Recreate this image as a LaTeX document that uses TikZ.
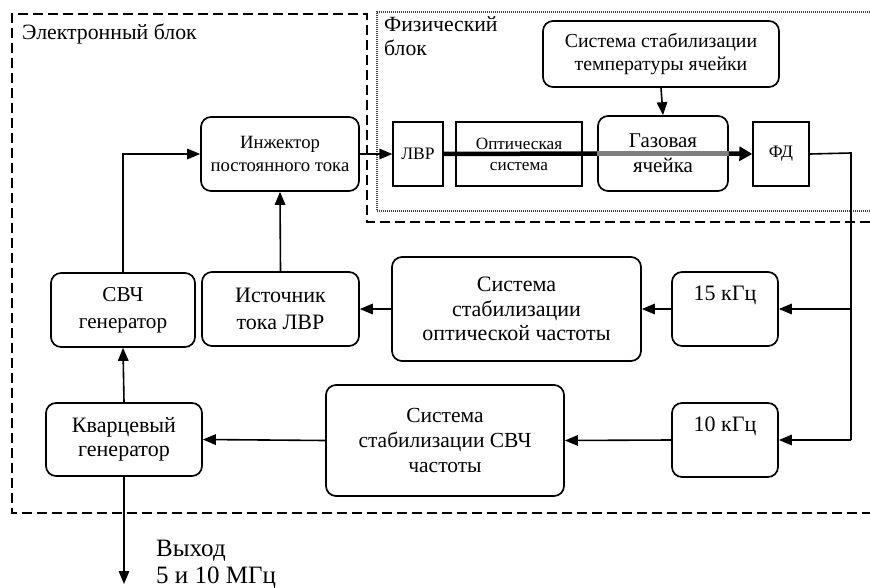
\documentclass[tikz,border=0pt]{standalone}
\usepackage{fontspec}
\setmainfont{Liberation Serif}
\usetikzlibrary{arrows.meta}
\newcommand{\fs}[2]{\fontsize{#1pt}{#2pt}\selectfont}
\begin{document}
\begin{tikzpicture}[x=1pt,y=-1pt,
  rbox/.style={draw, line width=1.7pt, rounded corners=10pt, align=center, fill=white, inner sep=0pt},
  sbox/.style={draw, line width=1.3pt, align=center, fill=white, inner sep=0pt},
  conn/.style={line width=1.6pt, -{Triangle[length=13pt,width=10.5pt]}},
  plain/.style={line width=1.6pt},
  dashframe/.style={line width=1.6pt, dash pattern=on 10pt off 5pt},
  dotframe/.style={line width=1.2pt, dash pattern=on 1pt off 1pt, black!75}
]
\useasboundingbox (0,0) rectangle (870,588);

% frames
\draw[dashframe] (870,222) -- (367,222) -- (367,14) -- (12,14) -- (12,513) -- (870,513);
\draw[dotframe] (870,12) -- (377,12) -- (377,211) -- (870,211);
\node[anchor=base west, font=\fs{21.8}{25}, inner sep=0pt] (elab) at (22,40) {Электронный блок};
\node[anchor=base west, align=left, font=\fs{21.7}{24}, inner sep=0pt] (flab) at (384,56) {Физический\\блок};

% physical block
\node[rbox, minimum width=236pt, minimum height=66pt, font=\fs{19.8}{23}] (temp) at (661,54) {Система стабилизации\\температуры ячейки};
\node[sbox, minimum width=50pt, minimum height=64pt, font=\fs{17.5}{21}] (lvr) at (418,154) {ЛВР};
\node[sbox, minimum width=126pt, minimum height=64pt, font=\fs{17.2}{21}] (opt) at (519,154) {Оптическая\\система};
\node[rbox, minimum width=130pt, minimum height=75pt, font=\fs{21}{25}] (gas) at (663,153.5) {Газовая\\ячейка};
\node[sbox, minimum width=56pt, minimum height=64pt, font=\fs{17.5}{21}] (fd) at (781,154) {ФД};

% electronic block
\node[rbox, minimum width=158pt, minimum height=74pt, font=\fs{18.7}{23}] (inj) at (280,154) {Инжектор\\постоянного тока};
\node[rbox, minimum width=144pt, minimum height=74pt, font=\fs{21.2}{27}] (svch) at (123,310) {СВЧ\\генератор};
\node[rbox, minimum width=157pt, minimum height=74pt, font=\fs{22}{27}] (ist) at (280.5,309) {Источник\\тока ЛВР};
\node[rbox, minimum width=249pt, minimum height=104pt, font=\fs{22}{24.5}] (optsys) at (516.5,309) {Система\\стабилизации\\оптической частоты};
\node[rbox, minimum width=106pt, minimum height=74pt, font=\fs{22}{25}] (k15) at (725,309) {15 кГц\\\strut};
\node[rbox, minimum width=106pt, minimum height=74pt, font=\fs{22}{25}] (k10) at (725,440) {10 кГц\\\strut};
\node[rbox, minimum width=238pt, minimum height=111pt, font=\fs{21.5}{25}] (svchsys) at (445,440.5) {Система\\стабилизации СВЧ\\частоты};
\node[rbox, minimum width=156pt, minimum height=73pt, font=\fs{22}{24.5}] (kvarc) at (124,439.5) {Кварцевый\\генератор};

\coordinate (out) at (124,584);
\node[anchor=base west, align=left, font=\fs{25}{27}, inner sep=0pt] (outlab) at (156,583) {Выход\\5 и 10 МГц};

% beam
\draw[line width=4.5pt] (lvr.east) -- (gas.west);
\draw[line width=4.5pt, black!50] (gas.west) -- (gas.east);
\draw[line width=4.5pt, -{Triangle[length=13pt,width=14pt]}] (gas.east) -- (fd.west);

% connectors
\draw[conn] (temp.south) -- (gas.north);
\draw[conn] (inj.east) -- (lvr.west);
\coordinate (j1) at (851,153);
\coordinate (j2) at (851,309);
\coordinate (j3) at (851,440);
\draw[plain] (fd.east) -- (j1) -- (j3);
\draw[conn] (j2) -- (k15.east);
\draw[conn] (j3) -- (k10.east);
\draw[conn] (k15.west) -- (optsys.east);
\draw[conn] (optsys.west) -- (ist.east);
\draw[conn] (ist.north) -- (inj.south);
\draw[conn] (svch.north) |- (inj.west);
\draw[conn] (kvarc.north) -- (svch.south);
\draw[conn] (k10.west) -- (svchsys.east);
\draw[conn] (svchsys.west) -- (kvarc.east);
\draw[conn] (kvarc.south) -- (out);
\end{tikzpicture}
\end{document}
